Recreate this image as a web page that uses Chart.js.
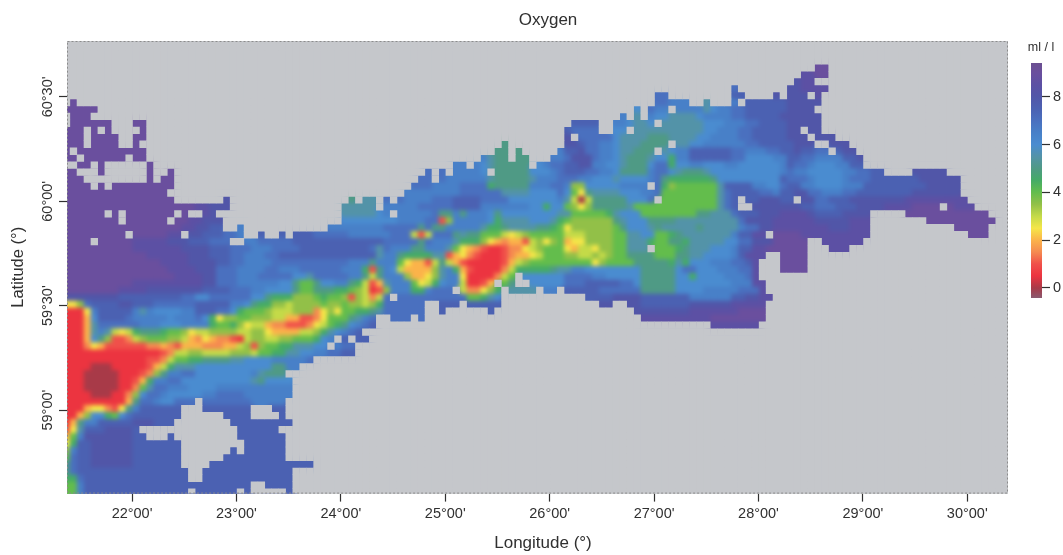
<!DOCTYPE html>
<html>
<head>
<meta charset="utf-8">
<title>Oxygen</title>
<script src="https://cdn.jsdelivr.net/npm/chart.js@4/dist/chart.umd.min.js"></script>
<style>
  body { margin: 0; background: #fff; }
  #wrap { position: relative; width: 1063px; height: 555px; overflow: hidden; }
  canvas { position: absolute; }
</style>
</head>
<body>
<div id="wrap">
  <canvas id="map" width="1063" height="555" style="left:0;top:0"></canvas>
  <canvas id="scale" width="53" height="280" style="left:1010px;top:30px"></canvas>
</div>
<script>
// oxygen levels, one letter for each half ml/l
const levelKeys = "abcdefghijklmnopqrs";
const levelValues = [0, 0.5, 1, 1.5, 2, 2.5, 3, 3.5, 4, 4.5, 5, 5.5, 6, 6.5, 7, 7.5, 8, 8.5, 9];
const levelColors = ["#a83a48", "#ec3440", "#f0504a", "#f58a50", "#fbb34a", "#f5e648", "#c4da48", "#92c048", "#63bd4c", "#45ab66", "#4f9a85", "#5393a8", "#4a8cd0", "#4880c8", "#4a70bf", "#4b61b2", "#5156a8", "#5c50a4", "#6a4f9e"];

// grid is 4' of longitude by 2' of latitude
const lonStart = 21.372;
const lonStep = 1 / 15;
const latStart = 60.74;
const latStep = 1 / 30;

// each row: letter + column where that run stops, "." means no data
const oxygenRows = [
  "",
  "",
  "",
  ".108 s110",
  ".106 r108 s110",
  ".105 q106 r108",
  ".96 o97 .104 q106 r110",
  ".85 o87 .96 p98 .102 q103 .104 q108 r109",
  ".1 s2 .85 o87 n90 .92 l93 .96 n97 o98 p104 q109",
  "s5 .82 m83 .84 o85 n92 l93 m94 n96 o98 p104 q108",
  ".1 s4 .80 n81 .82 l83 .84 n85 m87 l91 m92 n96 o98 p103 q109",
  ".1 s7 .10 s12 .73 p77 .79 n81 m82 l84 m85 l92 m95 n98 o100 p104 q109",
  "s7 .10 s12 .72 p73 o77 .79 m80 m82 l92 m94 n97 o99 p104 q109",
  "s8 .10 s12 .72 q74 o79 m80 l84 k87 l91 m93 n97 o99 p104 q111",
  "s8 .10 s11 .63 k64 .72 q74 p75 o77 n79 m80 l83 k87 l90 m92 n98 o100 p105 q113",
  "s12 .62 k64 .65 k66 .71 n72 p74 q75 o77 n79 m80 l82 k86 l87 m88 n90 p96 o98 n101 o103 p105 q106 p108 o110 p112 q114",
  "s12 .60 n61 l62 k64 .65 k67 .70 n72 o73 q76 o77 n79 m80 l81 k84 l85 m87 j88 n90 p96 o98 m102 n104 p106 o108 n112 p114 q115",
  ".2 s4 .5 s6 .12 s13 .56 n58 .59 n60 m61 l62 k64 k67 .68 m69 n70 o72 p74 q76 n78 m80 l81 k84 m85 o87 j88 m90 n92 m95 n97 m103 n104 p105 o107 n108 m111 n113 p115",
  "s2 .5 s6 .12 s13 .15 s16 .52 o53 .54 o55 .56 n60 m61 l62 k67 m70 n71 o72 p75 o77 n79 m80 k84 n85 o87 m88 l89 k92 l93 m96 m103 n104 o105 n107 m112 n114 o116 p118 .122 q127",
  "s3 .12 s13 .14 s16 .51 o53 .54 o55 n61 l62 k67 l68 n71 o74 n76 m79 l80 m84 n85 o86 k87 j93 k94 m98 m103 p104 o107 n108 m112 n113 o116 p123 q129",
  "s16 .50 o53 n57 o61 j62 k67 n70 o72 n73 h75 m80 n84 o86 j87 h88 i94 l95 p99 n101 m103 o104 p106 n108 m112 n115 p124 q129",
  "s15 .49 n57 o63 l67 m71 o72 m73 i74 f75 k76 l80 m83 n85 o86 i94 l95 o96 p100 o102 n103 p105 q107 o109 n112 o114 p122 q129",
  "s16 .23 q24 .41 k42 .43 l45 .46 o47 .48 o49 n53 o56 p60 o64 m71 n72 l73 g74 a75 g76 k81 m84 o85 j86 i94 l95 o96 p100 q103 p105 q108 o110 p113 q121 r130",
  "s19 r21 q24 .40 l45 .46 n51 o56 p60 n67 m69 j70 m72 i73 h74 f75 h76 k81 l82 i94 l95 o96 p99 q106 p108 o111 p114 q118 r122 s128 r131",
  "s19 r21 q22 .40 l45 m46 n53 o54 k56 n57 k58 n61 m62 k63 m71 l73 i78 j79 l80 m83 i91 k93 l96 o97 p100 q103 r107 q108 p112 q116 .121 s133",
  "s18 r20 q23 .40 m48 n52 o54 h54 c55 h56 n61 m62 j63 l67 m70 l71 j72 i73 h79 k80 l81 m84 k88 l97 o98 q102 r108 q113 r116 .124 s134",
  "s17 r19 q21 p23 .25 n26 .38 n46 o51 k52 o53 k55 n60 l61 j63 k64 l68 k70 j71 i72 f73 h79 i80 k81 m84 l85 k86 l91 k92 l97 n98 o100 q102 r110 q113 r116 .128 s133",
  "s15 r18 q20 p23 o25 n26 .28 p29 .31 p32 .33 p36 o41 n47 o50 g51 c52 g53 o56 k57 l58 k60 i63 g64 f65 g66 h67 i72 g75 h79 i81 l83 m85 i87 j88 k89 l96 n97 p99 r102 s106 r116 .130 s133",
  "s10 r15 q18 p21 o26 n28 o33 p46 o51 k52 o53 n56 l57 j60 h61 f62 e63 d64 e66 c67 g68 h69 f70 h71 i72 e73 f75 h79 i81 l84 j85 i87 k89 j90 l95 m97 o99 q102 s107 .109 r115",
  "s10 r17 q21 p24 o27 n30 o34 p44 o45 l46 o47 n50 k52 n55 l56 i57 f58 e59 d60 c61 b63 c64 d66 f67 g68 h69 i72 f73 e74 g76 f77 h79 i81 l84 j85 i88 j89 k90 l93 m96 n97 p99 r101 s107 .110 r113",
  "s12 r18 q21 p24 o26 n29 o31 p45 l46 n48 k49 j53 l55 c56 e57 f58 d59 c60 b63 c64 d65 e67 f68 g69 i72 h74 g76 h77 g78 h79 i81 k85 i88 k90 l92 m96 n97 p98 r101 .103 s107",
  "s14 r18 q22 p24 o26 n30 o41 n44 k45 n48 i49 f50 e52 c53 g54 k55 g56 e57 c58 b63 c64 e65 g66 h67 i76 f77 h78 i82 k87 j88 l89 j90 m93 n96 o98 p99 r100 .103 s107",
  "s15 r19 q22 o25 n29 o31 n34 o40 n43 j44 c45 k46 n47 m48 g49 e52 e53 h54 l55 n56 j57 e58 c59 b63 d64 g65 j70 k71 l73 n75 m83 k88 m89 o91 m94 n97 o99 r100 .103 s107",
  "s16 r20 q22 o25 n28 o33 m35 l36 o41 n43 k44 g45 k46 n49 h50 e52 f53 h54 l55 n57 f58 b62 d63 g64 i65 j66 m72 o76 n78 m83 k88 m90 j91 m95 n98 o99 r100",
  "s10 r20 q22 o25 n31 m33 k34 i36 k37 m39 n41 k42 j43 g44 c45 e46 l47 n50 i51 f52 g53 j54 m55 n57 g58 b60 c61 e62 i64 k65 m72 o75 p80 o82 m83 k88 m96 n99 r101",
  "s8 r12 q20 p24 o27 n29 m33 k34 i36 k39 j41 i42 h43 g44 b45 c46 h47 n50 j52 n53 o57 g58 d60 f61 h62 j63 .64 l68 .69 n71 .72 p77 o83 k88 m92 n97 o100 r101",
  "q8 p17 o19 m21 o27 m29 k30 j33 h36 i37 j38 i40 h41 c42 h43 g44 d45 g46 o58 i60 j61 l62 m63 .75 p79 q83 p90 n96 p98 q100 r102",
  "f2 h3 o4 p8 q10 p13 o19 p24 n26 m27 k28 j30 h32 g33 h37 i38 h40 i41 h43 g44 h45 j46 o52 .54 p57 .58 p63 .77 q79 .81 q83 p90 q96 r101",
  "b3 f4 n5 p10 n11 l12 n13 m17 n19 p22 o24 m25 j26 i29 h30 g33 h36 d37 f38 h39 f40 i42 j44 k45 l46 o52 .54 p55 .61 p62 .82 q90 r97 s101",
  "b3 e4 m5 p9 o10 n15 m16 n19 o20 m21 j22 f23 h25 i27 h30 g32 e34 c36 d37 f38 i41 k42 l43 n44 o45 .47 o50 .51 o52 .83 r93 s101",
  "b3 e4 l5 o11 n14 m17 n21 j22 i24 j25 h26 f27 g29 e30 d32 c35 d36 f37 g38 i39 j40 k41 m42 n43 o44 p45 .93 r100",
  "b3 e4 l5 n6 l7 g8 f9 g10 j11 k14 j15 i17 h18 f19 g21 h25 g27 h29 f30 e34 g36 h37 j38 l39 m40 n41 o42 p43",
  "b3 e4 m5 k6 h7 c9 d10 g11 h12 i15 h17 g18 e19 d20 f21 e22 d24 c25 b26 g27 h29 g31 h33 i36 j37 m38 n39 o40 p44",
  "b3 d4 f5 e6 c12 d14 e15 d16 c17 e20 d23 e25 g26 h27 c28 h29 i31 j33 l36 m38 n40 o42",
  "b14 c15 d16 g18 h20 g24 h27 g28 i30 j32 l34 m36 n38 o40 p42",
  "b12 c14 d15 g16 i18 j20 k24 l26 m30 n35 o36",
  "b4 a7 b12 c13 e14 g15 j16 l19 m30 k32 n34",
  "b3 a8 b11 c12 d13 h14 k15 n17 o19 m27 n28 l29 k32",
  "b3 a8 b10 c11 e12 j13 n15 o17 m27 l28 k29 m33",
  "b3 a8 b10 d11 i12 l13 o15 n18 m22 n33",
  "b4 a7 b9 d10 h11 m12 o14 n15 m20 n22 o26 n33",
  "b9 e10 k11 o13 n14 m16 o19 .20 o27 n32",
  "b3 e4 f6 d7 c8 f9 k10 n11 p17 .20 p27 .30 p32",
  "b2 e3 h4 m6 j7 i8 m9 o10 p17 .23 p27 .31 p32",
  "b1 e2 k3 n5 p10 q13 p16 .24 p33",
  "c1 f2 l3 p6 q10 p11 .25 p31",
  "e1 i2 n3 q10 p12 .15 p16 .25 p32",
  "f1 j2 p4 q10 p17 .26 p32",
  "h1 n2 p4 q10 p17 .24 p25 .26 p32",
  "i1 o2 p4 q10 p17 .23 p32",
  "k1 o2 p4 q10 p17 .21 p36",
  "k1 o2 p18 .20 p33",
  "j2 o3 p18 .20 p33",
  "i2 n3 p27 .29 p33",
  "i2 n3 p18 .19 p25 .26 p27 .32 p33"
];

// single cells without data, [row, column]
const missingCells = [
  [12, 3], [12, 5], [12, 10], [13, 3], [14, 3], [15, 1], [16, 2], [16, 9], [20, 4], [20, 6],
  [24, 6], [24, 8], [24, 16], [24, 18], [24, 19], [25, 8], [25, 15], [27, 9], [27, 17],
  [28, 4], [28, 24], [28, 25], [24, 47], [18, 61], [34, 62], [35, 56], [36, 47], [42, 39],
  [42, 41], [43, 38], [33, 65], [34, 65], [34, 66], [13, 73], [12, 81], [11, 85], [9, 87],
  [8, 97], [7, 107], [12, 106], [13, 107], [14, 108], [14, 109], [14, 87], [15, 85], [20, 84],
  [22, 85], [22, 97], [23, 97], [23, 98], [22, 105], [27, 101], [29, 84], [15, 110], [23, 126]
];

const lonTickValues = [22, 23, 24, 25, 26, 27, 28, 29, 30];
const lonTickLabels = ["22°00'", "23°00'", "24°00'", "25°00'", "26°00'", "27°00'", "28°00'", "29°00'", "30°00'"];
const latTickValues = [59, 59.5, 60, 60.5];
const latTickLabels = ["59°00'", "59°30'", "60°00'", "60°30'"];
const scaleTickValues = [0, 2, 4, 6, 8];

const textColor = "#303030";
const seaColor = "#c5c7cb";
const sansFont = "'Liberation Sans', Arial, sans-serif";

function GetCells() {
  const skip = new Set(missingCells.map((c) => `${c[0]}_${c[1]}`));
  const cells = [];
  oxygenRows.forEach((row, r) => {
    let col = 0;
    for (const run of row.matchAll(/([.a-s])(\d+)/g)) {
      const end = Number(run[2]);
      for (; col < end; col++) {
        if (run[1] === "." || skip.has(`${r}_${col}`)) continue;
        cells.push({
          x: lonStart + col * lonStep,
          y: latStart - r * latStep,
          c: col,
          r: r,
          v: levelValues[levelKeys.indexOf(run[1])],
        });
      }
    }
  });
  return cells;
}

// every grid position that holds no value, painted grey over the smoothed field
function GetEmptyCells(cells) {
  const used = new Set(cells.map((d) => `${d.r}_${d.c}`));
  const empty = [];
  for (let r = -1; r <= oxygenRows.length; r++) {
    for (let c = -1; c <= 136; c++) {
      if (!used.has(`${r}_${c}`)) {
        empty.push({ x: lonStart + c * lonStep, y: latStart - r * latStep });
      }
    }
  }
  return empty;
}

function ColorOf(v) {
  return levelColors[levelValues.indexOf(v)];
}

const plotFrame = {
  id: "plotFrame",
  beforeDatasetsDraw(chart) {
    const a = chart.chartArea;
    chart.ctx.save();
    chart.ctx.fillStyle = seaColor;
    chart.ctx.fillRect(a.left, a.top, a.width, a.height);
    chart.ctx.restore();
  },
  // the printed map is smoothed, so soften the cells before the grey goes on top
  afterDatasetDraw(chart, args) {
    if (args.index !== 1) return;
    const a = chart.chartArea;
    const off = document.createElement("canvas");
    off.width = chart.width;
    off.height = chart.height;
    const o = off.getContext("2d");
    o.drawImage(chart.canvas, 0, 0);
    // stretch the border pixels outwards so the blur does not pull in the white page
    o.drawImage(chart.canvas, a.left, a.top, 1, a.height, a.left - 10, a.top, 10, a.height);
    o.drawImage(chart.canvas, a.left, a.bottom - 1, a.width, 1, a.left, a.bottom, a.width, 10);
    const ctx = chart.ctx;
    ctx.save();
    ctx.beginPath();
    ctx.rect(a.left, a.top, a.width, a.height);
    ctx.clip();
    ctx.filter = "blur(2px)";
    ctx.drawImage(off, 0, 0);
    ctx.restore();
  },
  afterDatasetsDraw(chart) {
    const a = chart.chartArea;
    chart.ctx.save();
    chart.ctx.strokeStyle = "#8c8c8c";
    chart.ctx.setLineDash([2, 2]);
    chart.ctx.strokeRect(a.left + 0.5, a.top + 0.5, a.width - 1, a.height - 1);
    chart.ctx.restore();
  },
};

// titles in the reference sit a little right of the plot centre
const moveTitles = {
  id: "moveTitles",
  afterLayout(chart) {
    chart.boxes.forEach((b) => {
      if (!b.options || !b.options.text) return;
      b.left = 0;
      b.right = b.options.position === "bottom" ? 1086 : 1096;
    });
  },
};

const oxygenCells = GetCells();
const cellColor = (ctx) => (ctx.raw ? ColorOf(ctx.raw.v) : levelColors[0]);

const mapChart = new Chart(document.getElementById("map").getContext("2d"), {
  type: "scatter",
  data: {
    datasets: [
      {
        // grey no data cells, on top
        data: GetEmptyCells(oxygenCells),
        order: 0,
        pointStyle: "rect",
        pointRadius: 5.2,
        pointBorderWidth: 0,
        pointBackgroundColor: seaColor,
      },
      {
        data: oxygenCells,
        order: 1,
        pointStyle: "rect",
        pointRadius: 5.1,
        pointBorderWidth: 0,
        pointBackgroundColor: cellColor,
      },
      {
        // wider copy underneath, keeps the coast edges from fading into grey
        data: oxygenCells,
        order: 2,
        pointStyle: "rect",
        pointRadius: 11,
        pointBorderWidth: 0,
        pointBackgroundColor: cellColor,
      },
    ],
  },
  plugins: [plotFrame, moveTitles],
  options: {
    responsive: false,
    animation: false,
    events: [],
    layout: { padding: { left: 0, right: 55, top: 0, bottom: 0 } },
    plugins: {
      legend: { display: false },
      tooltip: { enabled: false },
      title: {
        display: true,
        text: "Oxygen",
        color: textColor,
        font: { family: sansFont, size: 17, weight: "normal" },
        padding: { top: 10, bottom: 10.6 },
      },
      subtitle: {
        display: true,
        position: "bottom",
        text: "Longitude (°)",
        color: textColor,
        font: { family: sansFont, size: 17, weight: "normal" },
        padding: { top: 10, bottom: 1 },
      },
    },
    scales: {
      x: {
        type: "linear",
        min: 21.377,
        max: 30.39,
        afterFit(s) { s.height = 30; },
        afterBuildTicks(s) { s.ticks = lonTickValues.map((v) => ({ value: v })); },
        border: { display: false },
        grid: { drawOnChartArea: false, tickLength: 8, tickColor: "#303030", tickWidth: 1.2 },
        ticks: {
          autoSkip: false,
          maxRotation: 0,
          padding: 4,
          color: textColor,
          font: { family: sansFont, size: 14.5 },
          callback: (v, i) => lonTickLabels[i],
        },
      },
      y: {
        type: "linear",
        min: 58.6,
        max: 60.768,
        afterFit(s) { s.width = 67; },
        afterBuildTicks(s) { s.ticks = latTickValues.map((v) => ({ value: v })); },
        border: { display: false },
        grid: { drawOnChartArea: false, tickLength: 8, tickColor: "#303030", tickWidth: 1.2 },
        title: {
          display: true,
          text: "Latitude (°)",
          color: textColor,
          font: { family: sansFont, size: 16.5, weight: "normal" },
          padding: { top: 9, bottom: 0 },
        },
        ticks: {
          autoSkip: false,
          minRotation: 90,
          maxRotation: 90,
          crossAlign: "center",
          padding: -9.5,
          color: textColor,
          font: { family: sansFont, size: 14.5 },
          callback: (v, i) => latTickLabels[i],
        },
      },
    },
  },
});

// colour scale, bottom and top of the bar fade as in the reference
const scaleMin = -0.42;
const scaleMax = 9.41;

function ScaleGradient(chart) {
  const a = chart.chartArea;
  if (!a) return levelColors[0];
  const g = chart.ctx.createLinearGradient(0, a.bottom, 0, a.top);
  const span = scaleMax - scaleMin;
  g.addColorStop(0, "#8a5a70");
  levelValues.forEach((v, i) => {
    g.addColorStop((v - scaleMin) / span, levelColors[i]);
  });
  g.addColorStop(1, "#6b4f90");
  return g;
}

const scaleChart = new Chart(document.getElementById("scale").getContext("2d"), {
  type: "bar",
  data: {
    labels: ["ml / l"],
    datasets: [
      {
        data: [[scaleMin, scaleMax]],
        barPercentage: 1,
        categoryPercentage: 1,
        backgroundColor: (ctx) => ScaleGradient(ctx.chart),
      },
    ],
  },
  plugins: [
    {
      id: "moveScaleTitle",
      afterLayout(chart) {
        chart.titleBlock.left = 0;
        chart.titleBlock.right = 62;
      },
    },
  ],
  options: {
    responsive: false,
    animation: false,
    events: [],
    layout: { padding: { left: 21, right: 0, top: 0, bottom: 12 } },
    plugins: {
      legend: { display: false },
      tooltip: { enabled: false },
      title: {
        display: true,
        text: "ml / l",
        color: textColor,
        font: { family: sansFont, size: 12.5, weight: "normal" },
        padding: { top: 10.5, bottom: 7.5 },
      },
    },
    scales: {
      x: { display: false },
      y: {
        position: "right",
        min: scaleMin,
        max: scaleMax,
        afterFit(s) { s.width = 21; },
        afterBuildTicks(s) { s.ticks = scaleTickValues.map((v) => ({ value: v })); },
        border: { display: false },
        grid: { drawOnChartArea: false, tickLength: 8, tickColor: "#303030", tickWidth: 1.2 },
        ticks: { padding: 3, color: textColor, font: { family: sansFont, size: 14.5 } },
      },
    },
  },
});
</script>
</body>
</html>
